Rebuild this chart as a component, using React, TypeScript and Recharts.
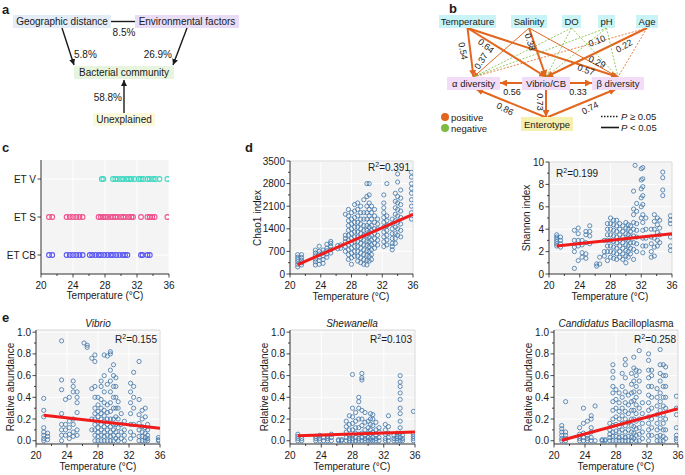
import React from "react";
import { ScatterChart, Scatter, XAxis, YAxis, CartesianGrid, ReferenceLine } from "recharts";

const FONT = "'Liberation Sans', Arial, Helvetica, sans-serif";
const INK = "#1a1a1a";
const DOT = "#3f75a8";
const FIT = "#f01c1c";
const ORANGE = "#e2661e";
const GREEN = "#7dbb42";

const tempTicks = [20, 24, 28, 32, 36];
const tempMinor = [22, 26, 30, 34];

// panel c: temperatures of samples per enterotype
const etLabels = ["ET CB", "ET S", "ET V"];
const etColors = ["#5b57f0", "#f0508c", "#3fd8c2"];
const etCB = [21, 21.4, 23.2, 23.6, 24, 24.4, 24.8, 25.2, 26.1, 26.4, 26.8, 27.2, 27.5, 27.9, 28.3, 28.7, 29, 29.4, 29.8, 30.2, 30.5, 30.8, 32.5, 32.7, 33.3, 33.6];
const etS = [21, 21.4, 23.2, 23.6, 24, 24.4, 24.8, 25.2, 27.2, 27.5, 27.8, 28, 28.3, 28.7, 29, 29.3, 29.6, 30, 30.3, 30.6, 31, 31.3, 31.5, 32.5, 33.3, 33.6, 33.9, 34.2, 35.8];
const etV = [27.6, 27.8, 29, 29.3, 29.6, 30, 30.3, 30.7, 31, 31.3, 31.7, 32.2, 32.5, 32.8, 33.3, 33.6, 34, 34.3, 34.8, 35.8];

type Col = [number, number[]];

const chao1Cols: Col[] = [
  [21, [220, 300, 380, 450, 520, 600]],
  [21.5, [280, 350, 430, 510, 600]],
  [23.3, [280, 380, 460, 560, 650, 740]],
  [23.8, [300, 420, 520, 620, 700, 860]],
  [24.3, [330, 450, 560, 650, 740]],
  [24.8, [520, 620, 720, 800, 920]],
  [25.3, [650, 750, 850, 950, 1010]],
  [26.2, [780, 880]],
  [26.6, [800, 900]],
  [27.2, [700, 850, 1000, 1100, 1200, 1850]],
  [27.6, [450, 600, 750, 900, 1050, 1200, 1350, 1500, 1650, 1800, 2000]],
  [28, [300, 500, 650, 800, 950, 1100, 1250, 1400, 1550, 1700, 1900]],
  [28.4, [550, 700, 850, 1000, 1150, 1300, 1450, 1600, 1750, 1950, 2150]],
  [28.8, [400, 550, 700, 850, 1000, 1150, 1300, 1450, 1600, 1800, 2000, 2200]],
  [29.2, [350, 500, 650, 800, 950, 1100, 1250, 1400, 1550, 1700, 1900, 2100]],
  [29.6, [300, 450, 600, 750, 900, 1050, 1200, 1350, 1500, 1700, 1900, 2300]],
  [30, [280, 420, 580, 720, 880, 1020, 1180, 1350, 1500, 1700, 1900, 2100, 2400, 2800]],
  [30.3, [400, 550, 700, 850, 1000, 1150, 1300, 1450, 1600, 1800, 2000, 2200, 2450, 2800]],
  [30.6, [450, 600, 750, 900, 1050, 1200, 1350, 1500, 1700, 1900, 2100]],
  [31, [800, 950, 1100, 1250, 1400, 1600, 1800, 2000]],
  [31.4, [900, 1050, 1200, 1400, 1550, 1700]],
  [32.2, [850, 1000, 1150, 1300, 1450, 1600, 1750, 1900, 2050, 2200, 2450]],
  [32.6, [900, 1050, 1200, 1350, 1500, 1650, 1800, 2800]],
  [33.3, [750, 850, 950, 1100, 1250, 1400, 1550, 1700]],
  [33.7, [950, 1100, 1250, 1450, 1650, 1850, 2050, 2250, 2500]],
  [34, [1200, 1400, 1600, 1800, 2000, 2200, 2400, 2850, 3100]],
  [34.4, [1150, 1350, 1550, 1750, 1950, 2150, 2350, 2600]],
  [35.8, [1700, 1900, 2100, 2300, 2500, 2650, 2800, 3000, 3150]],
];
const chao1Fit = [{ x: 21, y: 290 }, { x: 36, y: 1850 }];

const shannonCols: Col[] = [
  [21, [2.5, 2.7, 2.9, 3.1, 3.3, 3.5]],
  [21.5, [2.4, 2.7, 3.0, 3.3]],
  [23.3, [0.5, 2.0, 2.4, 3.0, 3.9]],
  [23.8, [1.2, 2.5, 3.0, 3.6, 4.1]],
  [24.3, [1.5, 1.9, 2.6, 3.0]],
  [24.8, [1.4, 1.8, 2.8, 3.5, 3.8]],
  [25.3, [2.7, 3.4, 3.8, 4.3]],
  [26.2, [0.7, 0.9]],
  [26.6, [0.9, 1.5]],
  [27.2, [1.6, 2.0, 3.0]],
  [27.6, [1.2, 2.0, 2.5, 3.0, 3.5, 4.0, 4.5]],
  [28, [1.5, 2.0, 2.5, 3.0, 3.5, 4.0, 4.5, 5.0]],
  [28.4, [1.4, 1.9, 2.4, 2.9, 3.4, 3.9, 4.4, 4.8]],
  [28.8, [1.3, 1.8, 2.3, 2.8, 3.3, 3.8, 4.3, 4.8]],
  [29.2, [1.5, 2.0, 2.5, 3.0, 3.5, 4.0, 4.5]],
  [29.6, [1.3, 1.8, 2.3, 2.8, 3.3, 3.8, 4.3]],
  [30, [1.0, 1.6, 2.1, 2.6, 3.1, 3.6, 4.1, 4.6]],
  [30.3, [1.5, 2.0, 2.5, 3.0, 3.5, 4.0, 4.4]],
  [30.6, [1.8, 2.3, 2.8, 3.3, 3.8, 4.3]],
  [31, [1.3, 2.2, 2.8, 3.4, 4.0, 4.6, 5.3, 5.8, 7.4]],
  [31.2, [9.7]],
  [31.4, [2.0, 2.7, 3.3, 3.9, 4.5, 5.6, 6.3]],
  [32, [5.0, 6.0, 6.8, 7.6, 8.4, 9.4]],
  [32.2, [1.9, 2.5, 3.2, 3.9, 4.6, 5.3, 6.2, 7.0, 7.8, 8.5, 9.5]],
  [32.6, [2.5, 3.2, 4.0, 5.0]],
  [33.3, [1.5, 2.0, 2.7, 3.3, 4.0]],
  [33.7, [1.6, 2.4, 3.2, 4.0, 4.7, 5.3]],
  [34.1, [2.5, 3.0, 3.7, 4.4, 5.0]],
  [34.4, [2.8, 3.5, 4.1, 4.8]],
  [34.8, [7.0, 7.5, 8.6, 9.1]],
  [35.8, [2.1, 2.5, 3.3, 4.5, 4.8, 5.2]],
];
const shannonFit = [{ x: 21, y: 2.5 }, { x: 36, y: 3.6 }];

const vibrioCols: Col[] = [
  [21, [0.0, 0.02, 0.05, 0.08, 0.12, 0.22, 0.28, 0.39]],
  [21.5, [0.01, 0.04, 0.07]],
  [23.3, [0.0, 0.05, 0.1, 0.15, 0.25, 0.47, 0.56, 0.92]],
  [23.8, [0.05, 0.1, 0.15, 0.38]],
  [24.3, [0.02, 0.06, 0.12, 0.18, 0.4]],
  [24.8, [0.04, 0.08, 0.15, 0.2, 0.45, 0.5, 0.55]],
  [25.3, [0.05, 0.1, 0.26, 0.35, 0.4, 0.45]],
  [26.2, [0.9]],
  [26.6, [0.86, 0.88]],
  [27.2, [0.1, 0.2, 0.48, 0.76]],
  [27.6, [0.0, 0.05, 0.1, 0.15, 0.2, 0.25, 0.3, 0.4, 0.5, 0.73, 0.79]],
  [28, [0.0, 0.04, 0.08, 0.12, 0.17, 0.22, 0.27, 0.33, 0.4]],
  [28.4, [0.0, 0.05, 0.1, 0.15, 0.2, 0.25, 0.3, 0.38, 0.5, 0.55]],
  [28.8, [0.0, 0.04, 0.08, 0.13, 0.18, 0.23, 0.28, 0.35, 0.45, 0.6, 0.79]],
  [29.2, [0.0, 0.05, 0.1, 0.15, 0.2, 0.26, 0.33, 0.52, 0.78]],
  [29.6, [0.0, 0.04, 0.08, 0.13, 0.2, 0.27, 0.35, 0.45, 0.55, 0.65, 0.8, 0.82]],
  [30, [0.0, 0.05, 0.1, 0.15, 0.2, 0.3, 0.4, 0.5, 0.6, 0.7]],
  [30.3, [0.02, 0.08, 0.15, 0.22, 0.3, 0.4, 0.5, 0.58]],
  [30.6, [0.0, 0.05, 0.12, 0.2, 0.3, 0.36]],
  [31, [0.02, 0.08, 0.15, 0.25]],
  [31.4, [0.0, 0.05, 0.1, 0.18]],
  [32.2, [0.02, 0.08, 0.15, 0.25, 0.35, 0.45, 0.53]],
  [32.6, [0.05, 0.15, 0.3, 0.4, 0.5, 0.63]],
  [33.3, [0.0, 0.04, 0.1, 0.16, 0.24, 0.38, 0.73]],
  [33.7, [0.0, 0.04, 0.08, 0.13, 0.2, 0.28]],
  [34.1, [0.0, 0.03, 0.07, 0.12, 0.22, 0.3]],
  [34.4, [0.0, 0.02, 0.05, 0.1, 0.15]],
  [35.8, [0.0, 0.01, 0.03]],
];
const vibrioFit = [{ x: 21, y: 0.235 }, { x: 36, y: 0.115 }];

const shewCols: Col[] = [
  [21, [0.0, 0.02, 0.04, 0.06]],
  [21.5, [0.0, 0.02]],
  [23.3, [0.0, 0.02, 0.04]],
  [23.8, [0.0, 0.02, 0.05]],
  [24.3, [0.0, 0.03]],
  [24.8, [0.0, 0.02, 0.04]],
  [25.3, [0.0, 0.03, 0.06]],
  [26.2, [0.0, 0.01]],
  [26.6, [0.0, 0.01]],
  [27.2, [0.0, 0.03, 0.08, 0.13, 0.18]],
  [27.6, [0.0, 0.02, 0.05, 0.1, 0.15, 0.23]],
  [28, [0.0, 0.02, 0.05, 0.1, 0.16, 0.22, 0.3, 0.61]],
  [28.4, [0.0, 0.03, 0.07, 0.12, 0.18, 0.26]],
  [28.8, [0.0, 0.02, 0.06, 0.12, 0.2, 0.3, 0.36, 0.4]],
  [29.2, [0.0, 0.03, 0.07, 0.14, 0.2, 0.28, 0.56, 0.58, 0.62]],
  [29.6, [0.0, 0.02, 0.05, 0.1, 0.17, 0.26]],
  [30, [0.0, 0.03, 0.07, 0.12, 0.18]],
  [30.3, [0.0, 0.02, 0.06, 0.1, 0.15, 0.2, 0.25]],
  [30.6, [0.0, 0.03, 0.08, 0.14, 0.2, 0.24]],
  [31, [0.0, 0.02, 0.05, 0.1, 0.17]],
  [31.4, [0.0, 0.03, 0.08, 0.12]],
  [32.2, [0.0, 0.02, 0.06, 0.1, 0.15]],
  [32.6, [0.0, 0.03, 0.07, 0.13, 0.23]],
  [33.3, [0.0, 0.02, 0.05]],
  [33.7, [0.0, 0.02, 0.04, 0.07]],
  [34.1, [0.0, 0.03, 0.07, 0.12, 0.18, 0.25, 0.3, 0.38, 0.44, 0.5, 0.54, 0.6]],
  [34.4, [0.0, 0.02, 0.05]],
  [35.8, [0.0, 0.02, 0.04, 0.06, 0.27]],
];
const shewFit = [{ x: 21, y: 0.045 }, { x: 36, y: 0.08 }];

const bacilCols: Col[] = [
  [21, [0.0, 0.02, 0.05, 0.08, 0.11, 0.14]],
  [21.5, [0.0, 0.02, 0.05, 0.08, 0.36]],
  [23.3, [0.0, 0.02, 0.04, 0.06, 0.12]],
  [23.8, [0.0, 0.03, 0.07, 0.16, 0.3]],
  [24.3, [0.0, 0.02, 0.05, 0.18]],
  [24.8, [0.0, 0.03, 0.08, 0.12, 0.2, 0.23]],
  [25.3, [0.0, 0.32]],
  [26.2, [0.0, 0.01]],
  [26.6, [0.0, 0.01]],
  [27.2, [0.0, 0.03, 0.06, 0.1, 0.16]],
  [27.6, [0.0, 0.04, 0.08, 0.14, 0.2, 0.28, 0.36, 0.44, 0.5, 0.58, 0.64, 0.7]],
  [28, [0.0, 0.04, 0.09, 0.15, 0.22, 0.3, 0.38, 0.47]],
  [28.4, [0.0, 0.03, 0.08, 0.13, 0.2, 0.27, 0.35, 0.44]],
  [28.8, [0.0, 0.04, 0.1, 0.16, 0.23, 0.3, 0.4, 0.5, 0.62]],
  [29.2, [0.0, 0.03, 0.08, 0.14, 0.2, 0.27, 0.35, 0.45, 0.58, 0.7, 0.75]],
  [29.6, [0.0, 0.04, 0.1, 0.17, 0.25, 0.33, 0.42]],
  [30, [0.0, 0.03, 0.08, 0.14, 0.2, 0.28, 0.36, 0.44, 0.52, 0.62]],
  [30.3, [0.02, 0.07, 0.13, 0.2, 0.28, 0.37, 0.45, 0.55, 0.67, 0.77]],
  [30.6, [0.0, 0.05, 0.11, 0.18, 0.25, 0.33, 0.4, 0.5, 0.6, 0.65]],
  [31, [0.0, 0.06, 0.12, 0.2, 0.3, 0.45, 0.55, 0.64, 0.83]],
  [31.4, [0.02, 0.08, 0.16, 0.25, 0.35]],
  [32.2, [0.0, 0.05, 0.1, 0.16, 0.22, 0.28, 0.35, 0.42, 0.5, 0.58, 0.65, 0.74, 0.8]],
  [32.6, [0.05, 0.12, 0.2, 0.3, 0.4, 0.5, 0.6, 0.65]],
  [33.3, [0.0, 0.04, 0.1, 0.16, 0.24, 0.32, 0.4, 0.48]],
  [33.7, [0.0, 0.05, 0.12, 0.2, 0.28, 0.36, 0.44, 0.55, 0.62, 0.7, 0.84]],
  [34.1, [0.0, 0.04, 0.1, 0.16, 0.24, 0.32, 0.4, 0.5, 0.6, 0.7]],
  [34.4, [0.02, 0.1, 0.2, 0.3, 0.4, 0.5, 0.6, 0.68]],
  [35.8, [0.0, 0.02, 0.05, 0.12, 0.24, 0.3, 0.41]],
];
const bacilFit = [{ x: 21, y: 0.005 }, { x: 36, y: 0.295 }];

const abundTicks = [0, 0.2, 0.4, 0.6, 0.8, 1.0];
const abundMinor = [0.1, 0.3, 0.5, 0.7, 0.9];

// panel b path coefficients
const bTop = ["Temperature", "Salinity", "DO", "pH", "Age"];
const bMid = ["α diversity", "Vibrio/CB", "β diversity"];
const bEdges: [string, string, string][] = [
  ["Temperature", "α diversity", "thick"],
  ["Temperature", "Vibrio/CB", "thick"],
  ["Temperature", "β diversity", "thick"],
  ["Salinity", "α diversity", "thin"],
  ["Salinity", "Vibrio/CB", "thick"],
  ["Salinity", "β diversity", "thin"],
  ["Age", "Vibrio/CB", "thick"],
  ["Age", "α diversity", "posNS"],
  ["Age", "β diversity", "posNS"],
  ["DO", "α diversity", "negNS"],
  ["DO", "Vibrio/CB", "negNS"],
  ["DO", "β diversity", "negNS"],
  ["pH", "α diversity", "negNS"],
  ["pH", "Vibrio/CB", "negNS"],
  ["pH", "β diversity", "negNS"],
];
const bCoefs: [string, number, number, number][] = [
  ["0.54", 463, 51, 78],
  ["0.64", 486, 46, 38],
  ["0.37", 481, 61, -58],
  ["0.38", 530, 42, 72],
  ["0.10", 597, 41, -22],
  ["0.22", 624, 46, -30],
  ["0.29", 597, 62, 25],
  ["0.57", 586, 70, 20],
  ["0.56", 512, 92, 0],
  ["0.33", 578, 92, 0],
  ["0.73", 540, 102, 90],
  ["0.86", 505, 109, 28],
  ["0.74", 590, 108, -28],
];

function toPoints(cols: Col[]) {
  return cols.flatMap(([t, ys]) => ys.map((y) => ({ x: t, y })));
}

const PAD_L = 50;
const PAD_T = 10;
const PAD_R = 10;
const PAD_B = 30;

type Series = { points: { x: number; y: number }[]; color: string };

type PanelProps = {
  left: number;
  top: number;
  w: number;
  h: number;
  yDomain: [number, number];
  yTicks: number[];
  yMinor: number[];
  yFmt: (v: number) => string;
  series: Series[];
  fit?: { x: number; y: number }[];
  frame?: boolean;
  r?: number;
  sw?: number;
};

function Panel(p: PanelProps) {
  const axisY = PAD_T + p.h;
  const XTick = (props: any) => {
    const v = props.payload.value;
    const major = tempTicks.includes(v);
    return (
      <g>
        <line x1={props.x} x2={props.x} y1={axisY} y2={axisY + (major ? 3.5 : 2)} stroke={INK} strokeWidth={0.8} />
        {major && (
          <text x={props.x} y={axisY + 14.5} textAnchor="middle" fontSize={10} fontFamily={FONT} fill={INK}>
            {v}
          </text>
        )}
      </g>
    );
  };
  const YTick = (props: any) => {
    const v = props.payload.value;
    const major = p.yTicks.includes(v);
    return (
      <g>
        <line x1={PAD_L - (major ? 3.5 : 2)} x2={PAD_L} y1={props.y} y2={props.y} stroke={INK} strokeWidth={0.8} />
        {major && (
          <text x={PAD_L - 5} y={props.y} dy="0.35em" textAnchor="end" fontSize={10} fontFamily={FONT} fill={INK}>
            {p.yFmt(v)}
          </text>
        )}
      </g>
    );
  };
  const allY = [...p.yTicks, ...p.yMinor].sort((a, b) => a - b);
  const allX = [...tempTicks, ...tempMinor].sort((a, b) => a - b);
  return (
    <div style={{ position: "absolute", left: p.left - PAD_L, top: p.top - PAD_T }}>
      <ScatterChart
        width={p.w + PAD_L + PAD_R}
        height={p.h + PAD_T + PAD_B}
        margin={{ top: PAD_T, right: PAD_R, bottom: 0, left: 0 }}
      >
        <CartesianGrid fill="#f4f4f4" stroke="#ffffff" strokeWidth={1} verticalValues={tempTicks} horizontalValues={p.yTicks} />
        <XAxis
          type="number"
          dataKey="x"
          domain={[20, 36]}
          ticks={allX}
          interval={0}
          height={PAD_B}
          tick={XTick}
          tickLine={false}
          axisLine={{ stroke: INK, strokeWidth: 0.9 }}
          allowDataOverflow
        />
        <YAxis
          type="number"
          dataKey="y"
          domain={p.yDomain}
          ticks={allY}
          interval={0}
          width={PAD_L}
          tick={YTick}
          tickLine={false}
          axisLine={{ stroke: INK, strokeWidth: 0.9 }}
          allowDataOverflow
        />
        {p.frame && <ReferenceLine y={p.yDomain[1]} stroke="#cfcfcf" strokeWidth={0.8} />}
        {p.frame && <ReferenceLine x={36} stroke="#cfcfcf" strokeWidth={0.8} />}
        {p.series.map((s, i) => (
          <Scatter
            key={i}
            data={s.points}
            isAnimationActive={false}
            shape={(d: any) => (
              <circle cx={d.cx} cy={d.cy} r={p.r ?? 2.1} fill="none" stroke={s.color} strokeWidth={p.sw ?? 0.8} />
            )}
          />
        ))}
        {p.fit && (
          <Scatter
            data={p.fit}
            isAnimationActive={false}
            line={{ stroke: FIT, strokeWidth: 3 }}
            shape={() => <g />}
          />
        )}
      </ScatterChart>
    </div>
  );
}

type TxtProps = {
  x: number;
  y: number;
  children: React.ReactNode;
  anchor?: "start" | "middle" | "end";
  rot?: number;
  size?: number;
  style?: React.CSSProperties;
};

const Txt = ({ x, y, children, anchor = "middle", rot = 0, size = 10, style }: TxtProps) => (
  <div
    style={{
      position: "absolute",
      left: x,
      top: y,
      transform: `translate(${anchor === "middle" ? -50 : anchor === "end" ? -100 : 0}%, -50%) rotate(${rot}deg)`,
      fontSize: size,
      lineHeight: 1,
      whiteSpace: "nowrap",
      color: INK,
      ...style,
    }}
  >
    {children}
  </div>
);

const R2 = ({ v }: { v: string }) => (
  <span>
    R<span style={{ fontSize: 7, position: "relative", top: -4 }}>2</span>={v}
  </span>
);

// diagram boxes (layout only)
const topBox: Record<string, [number, number]> = {
  Temperature: [439, 57],
  Salinity: [511, 36],
  DO: [562, 19],
  pH: [598, 17],
  Age: [636, 22],
};
const midBox: Record<string, [number, number]> = {
  "α diversity": [447, 53],
  "Vibrio/CB": [522, 48],
  "β diversity": [592, 52],
};

function Diagrams() {
  const topAnchor = (n: string) => [topBox[n][0] + topBox[n][1] / 2, 28];
  const midAnchor = (n: string) => [midBox[n][0] + midBox[n][1] / 2, 77];
  const edgeStyle = (k: string) => {
    if (k === "thick") return { stroke: ORANGE, strokeWidth: 2, marker: "url(#arrO)" };
    if (k === "thin") return { stroke: ORANGE, strokeWidth: 1, marker: "url(#arrOs)" };
    if (k === "posNS") return { stroke: ORANGE, strokeWidth: 0.8, dash: "2 1.5" };
    return { stroke: GREEN, strokeWidth: 0.8, dash: "2 1.5" };
  };
  return (
    <svg width={685} height={135} style={{ position: "absolute", left: 0, top: 0 }} fontFamily={FONT}>
      <defs>
        <marker id="arrK" viewBox="0 0 10 10" refX="10" refY="5" markerWidth="6" markerHeight="6" markerUnits="userSpaceOnUse" orient="auto">
          <path d="M0,0 L10,5 L0,10 z" fill={INK} />
        </marker>
        <marker id="arrO" viewBox="0 0 10 10" refX="10" refY="5" markerWidth="7" markerHeight="7" markerUnits="userSpaceOnUse" orient="auto">
          <path d="M0,0 L10,5 L0,10 z" fill={ORANGE} />
        </marker>
        <marker id="arrOs" viewBox="0 0 10 10" refX="10" refY="5" markerWidth="5" markerHeight="5" markerUnits="userSpaceOnUse" orient="auto">
          <path d="M0,0 L10,5 L0,10 z" fill={ORANGE} />
        </marker>
      </defs>

      {/* panel a */}
      <rect x={13} y={15} width={98} height={13} fill="#e3ecf7" />
      <rect x={135} y={15} width={104} height={13} fill="#e8dcf7" />
      <rect x={74} y={66} width={100} height={13} fill="#e8f5de" />
      <rect x={93} y={113} width={62} height={13} fill="#fbf9dc" />
      <line x1={111} y1={21.5} x2={135} y2={21.5} stroke={INK} strokeWidth={1.4} />
      <line x1={62} y1={28} x2={74} y2={65} stroke={INK} strokeWidth={1.4} markerEnd="url(#arrK)" />
      <line x1={187} y1={28} x2={173} y2={65} stroke={INK} strokeWidth={1.4} markerEnd="url(#arrK)" />
      <line x1={124} y1={113} x2={124} y2={80} stroke={INK} strokeWidth={1.4} markerEnd="url(#arrK)" />
      <g fontSize={10} fill={INK}>
        <text x={62} y={25} textAnchor="middle">Geographic distance</text>
        <text x={187} y={25} textAnchor="middle">Environmental factors</text>
        <text x={124} y={76} textAnchor="middle">Bacterial community</text>
        <text x={124} y={123} textAnchor="middle">Unexplained</text>
        <text x={124} y={36} textAnchor="middle">8.5%</text>
        <text x={74} y={58} textAnchor="start">5.8%</text>
        <text x={172} y={58} textAnchor="end">26.9%</text>
        <text x={122} y={101} textAnchor="end">58.8%</text>
      </g>

      {/* panel b */}
      {bEdges.map(([s, t, k], i) => {
        const [x1, y1] = topAnchor(s);
        const [x2, y2] = midAnchor(t);
        const st = edgeStyle(k);
        return (
          <line
            key={i}
            x1={x1}
            y1={y1}
            x2={x2}
            y2={y2}
            stroke={st.stroke}
            strokeWidth={st.strokeWidth}
            strokeDasharray={st.dash}
            markerEnd={st.marker}
          />
        );
      })}
      <line x1={522} y1={83} x2={500} y2={83} stroke={ORANGE} strokeWidth={2} markerEnd="url(#arrO)" />
      <line x1={570} y1={83} x2={592} y2={83} stroke={ORANGE} strokeWidth={2} markerEnd="url(#arrO)" />
      <line x1={546} y1={89} x2={546} y2={117} stroke={ORANGE} strokeWidth={2} markerEnd="url(#arrO)" />
      <line x1={545} y1={117} x2={476} y2={89} stroke={ORANGE} strokeWidth={2} markerEnd="url(#arrO)" />
      <line x1={548} y1={117} x2={616} y2={89} stroke={ORANGE} strokeWidth={2} markerEnd="url(#arrO)" />
      {bTop.map((n) => (
        <g key={n}>
          <rect x={topBox[n][0]} y={15} width={topBox[n][1]} height={13} fill="#c9f4f7" />
          <text x={topBox[n][0] + topBox[n][1] / 2} y={25} textAnchor="middle" fontSize={9.5} fill={INK}>
            {n}
          </text>
        </g>
      ))}
      {bMid.map((n) => (
        <g key={n}>
          <rect x={midBox[n][0]} y={77} width={midBox[n][1]} height={13} fill="#f2dcf8" />
          <text x={midBox[n][0] + midBox[n][1] / 2} y={87} textAnchor="middle" fontSize={9.5} fill={INK}>
            {n}
          </text>
        </g>
      ))}
      <rect x={521} y={117} width={52} height={14} fill="#f5efb0" />
      <text x={547} y={127.5} textAnchor="middle" fontSize={9.5} fill={INK}>Enterotype</text>
      {bCoefs.map(([t, x, y, r]) => (
        <text
          key={t}
          x={x}
          y={y}
          textAnchor="middle"
          dominantBaseline="central"
          fontSize={9}
          fill={INK}
          transform={`rotate(${r} ${x} ${y})`}
        >
          {t}
        </text>
      ))}
      <circle cx={445} cy={117} r={4} fill={ORANGE} />
      <circle cx={445} cy={128} r={4} fill={GREEN} />
      <text x={451} y={120.5} fontSize={9.5} fill={INK}>positive</text>
      <text x={451} y={131.5} fontSize={9.5} fill={INK}>negative</text>
      <line x1={601} y1={116.5} x2={619} y2={116.5} stroke={INK} strokeWidth={1.4} strokeDasharray="1.5 1.5" />
      <line x1={601} y1={127.5} x2={619} y2={127.5} stroke={INK} strokeWidth={1.6} />
      <text x={621} y={120} fontSize={9.5} fill={INK}>
        <tspan fontStyle="italic">P</tspan> ≥ 0.05
      </text>
      <text x={621} y={131} fontSize={9.5} fill={INK}>
        <tspan fontStyle="italic">P</tspan> {"<"} 0.05
      </text>
    </svg>
  );
}

export default function App() {
  const bold: React.CSSProperties = { fontWeight: 700 };
  const fmt1 = (v: number) => v.toFixed(1);
  return (
    <div
      style={{
        position: "absolute",
        left: 0,
        top: 0,
        width: 685,
        height: 475,
        background: "#ffffff",
        fontFamily: FONT,
        overflow: "hidden",
      }}
    >
      <Diagrams />

      <Panel
        left={41}
        top={160}
        w={128}
        h={114}
        yDomain={[0.5, 3.5]}
        yTicks={[1, 2, 3]}
        yMinor={[]}
        yFmt={(v) => etLabels[v - 1]}
        series={[etCB, etS, etV].map((arr, i) => ({
          points: arr.map((t) => ({ x: t, y: i + 1 })),
          color: etColors[i],
        }))}
        r={2.4}
        sw={1.1}
      />
      <Panel
        left={290}
        top={161}
        w={123}
        h={113}
        yDomain={[0, 3500]}
        yTicks={[0, 700, 1400, 2100, 2800, 3500]}
        yMinor={[350, 1050, 1750, 2450, 3150]}
        yFmt={(v) => String(v)}
        series={[{ points: toPoints(chao1Cols), color: DOT }]}
        fit={chao1Fit}
        frame
      />
      <Panel
        left={549}
        top={162}
        w={123}
        h={112}
        yDomain={[0, 10]}
        yTicks={[0, 2, 4, 6, 8, 10]}
        yMinor={[1, 3, 5, 7, 9]}
        yFmt={(v) => String(v)}
        series={[{ points: toPoints(shannonCols), color: DOT }]}
        fit={shannonFit}
        frame
      />
      <Panel
        left={36}
        top={330}
        w={124}
        h={114}
        yDomain={[-0.03, 1.02]}
        yTicks={abundTicks}
        yMinor={abundMinor}
        yFmt={fmt1}
        series={[{ points: toPoints(vibrioCols), color: DOT }]}
        fit={vibrioFit}
        frame
      />
      <Panel
        left={290}
        top={330}
        w={125}
        h={114}
        yDomain={[-0.03, 1.02]}
        yTicks={abundTicks}
        yMinor={abundMinor}
        yFmt={fmt1}
        series={[{ points: toPoints(shewCols), color: DOT }]}
        fit={shewFit}
        frame
      />
      <Panel
        left={554}
        top={330}
        w={124}
        h={114}
        yDomain={[-0.03, 1.02]}
        yTicks={abundTicks}
        yMinor={abundMinor}
        yFmt={fmt1}
        series={[{ points: toPoints(bacilCols), color: DOT }]}
        fit={bacilFit}
        frame
      />

      {/* panel letters */}
      <Txt x={2} y={9} anchor="start" size={13} style={bold}>a</Txt>
      <Txt x={449} y={8} anchor="start" size={13} style={bold}>b</Txt>
      <Txt x={2} y={147} anchor="start" size={13} style={bold}>c</Txt>
      <Txt x={245} y={147} anchor="start" size={13} style={bold}>d</Txt>
      <Txt x={2} y={317} anchor="start" size={13} style={bold}>e</Txt>

      {/* axis titles */}
      <Txt x={105} y={296}>Temperature (°C)</Txt>
      <Txt x={351} y={297}>Temperature (°C)</Txt>
      <Txt x={610} y={297}>Temperature (°C)</Txt>
      <Txt x={98} y={467}>Temperature (°C)</Txt>
      <Txt x={352} y={467}>Temperature (°C)</Txt>
      <Txt x={616} y={467}>Temperature (°C)</Txt>
      <Txt x={258} y={218} rot={-90}>Chao1 index</Txt>
      <Txt x={527} y={218} rot={-90}>Shannon index</Txt>
      <Txt x={11} y={387} rot={-90}>Relative abundance</Txt>
      <Txt x={265} y={387} rot={-90}>Relative abundance</Txt>
      <Txt x={529} y={387} rot={-90}>Relative abundance</Txt>

      {/* panel titles */}
      <Txt x={98} y={324} style={{ fontStyle: "italic" }}>Vibrio</Txt>
      <Txt x={352} y={324} style={{ fontStyle: "italic" }}>Shewanella</Txt>
      <Txt x={616} y={324}>
        <i>Candidatus</i> Bacilloplasma
      </Txt>

      {/* R² */}
      <Txt x={410} y={168} anchor="end"><R2 v="0.391" /></Txt>
      <Txt x={556} y={174} anchor="start"><R2 v="0.199" /></Txt>
      <Txt x={157} y={340} anchor="end"><R2 v="0.155" /></Txt>
      <Txt x={412} y={340} anchor="end"><R2 v="0.103" /></Txt>
      <Txt x={676} y={340} anchor="end"><R2 v="0.258" /></Txt>
    </div>
  );
}
